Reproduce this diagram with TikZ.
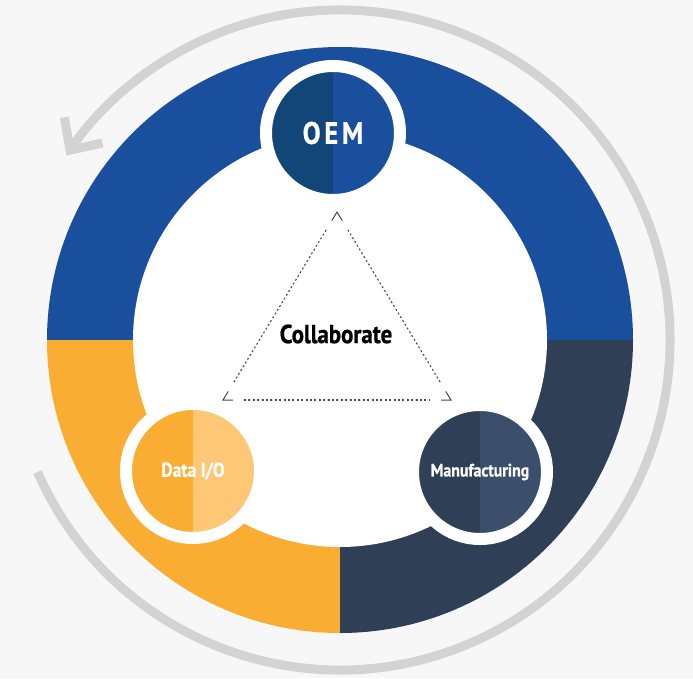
\documentclass[tikz,border=0pt]{standalone}
\usepackage{fontspec}
\usepackage{xcolor}
\usepackage{tikz}
\usetikzlibrary{arrows.meta, calc}

\newfontfamily\labelfont[FakeStretch=0.88, BoldFeatures={FakeBold=0.8}]{PT Sans}
\newfontfamily\oemfont[FakeStretch=0.86, LetterSpace=12, BoldFeatures={FakeBold=0.8}]{PT Sans}

\definecolor{ringblue}{HTML}{1A4F9E}
\definecolor{oemdark}{HTML}{134678}
\definecolor{ringgold}{HTML}{F9AD33}
\definecolor{goldlight}{HTML}{FDC775}
\definecolor{ringnavy}{HTML}{2E3F56}
\definecolor{navylight}{HTML}{3B4F6D}
\definecolor{backdrop}{HTML}{F7F7F7}
\definecolor{cyclegray}{HTML}{D3D3D3}
\definecolor{dashgray}{HTML}{4A4A4A}

\begin{document}
\begin{tikzpicture}[x=1pt, y=1pt,
    hub/.style 2 args={circle, fill=#2, draw=white, line width=12pt, minimum size=134pt, inner sep=0pt, text=white,
        font=\labelfont\bfseries\fontsize{18}{18}\selectfont,
        path picture={\fill[#1] (path picture bounding box.south west) rectangle (path picture bounding box.north);}},
    cyclearrow/.style={draw=cyclegray, line width=9pt, -{Straight Barb[length=24pt, width=46pt, sharp]}},
    dashline/.style={draw=dashgray, line width=1.1pt, dash pattern=on 2pt off 2.4pt, shorten <=21pt, shorten >=21pt},
    corner/.style={draw=dashgray, line width=1pt}
]

\useasboundingbox[fill=backdrop] (-340,-338) rectangle (353,340);

\draw[cyclearrow] (203.6:330) arc[start angle=203.6, end angle=506, radius=330];

\fill[ringblue] (0,0) -- (0:293) arc[start angle=0, end angle=180, radius=293] -- cycle;
\fill[ringgold] (0,0) -- (180:293) arc[start angle=180, end angle=270, radius=293] -- cycle;
\fill[ringnavy] (0,0) -- (270:293) arc[start angle=270, end angle=360, radius=293] -- cycle;
\fill[white] (0,0) circle[radius=207];

\coordinate (apex) at (-3,128);
\coordinate (baseL) at (-117,-60);
\coordinate (baseR) at (111,-60);

\draw[dashline] (apex) -- (baseL);
\draw[dashline] (baseL) -- (baseR);
\draw[dashline] (baseR) -- (apex);
\draw[corner] ($(apex)!10pt!(baseL)$) -- (apex) -- ($(apex)!10pt!(baseR)$);
\draw[corner] ($(baseL)!10pt!(apex)$) -- (baseL) -- ($(baseL)!10pt!(baseR)$);
\draw[corner] ($(baseR)!10pt!(apex)$) -- (baseR) -- ($(baseR)!10pt!(baseL)$);

\node[font=\labelfont\bfseries\fontsize{26}{26}\selectfont] (collab) at (-4,6) {Collaborate};

\node[hub={oemdark}{ringblue}, font=\oemfont\bfseries\fontsize{31}{31}\selectfont] (oem) at (-7,207) {OEM};
\node[hub={ringgold}{goldlight}, font=\labelfont\bfseries\fontsize{20}{20}\selectfont] (dataio) at (-147,-131) {Data I/O};
\node[hub={ringnavy}{navylight}] (mfg) at (140,-132) {Manufacturing};

\end{tikzpicture}
\end{document}
